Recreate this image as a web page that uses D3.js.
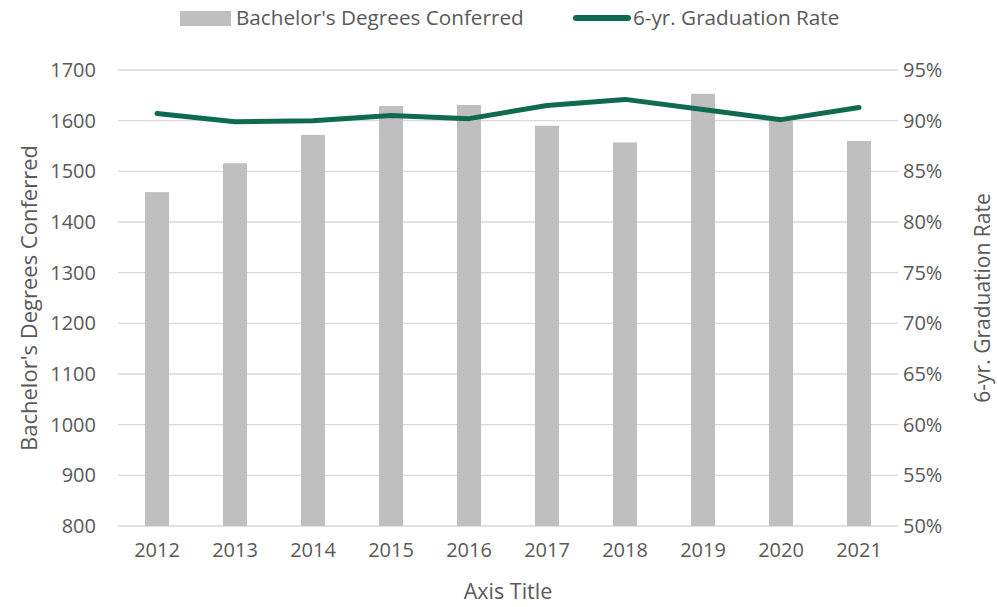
<!DOCTYPE html>
<html>
<head>
<meta charset="utf-8">
<script src="https://cdn.jsdelivr.net/npm/d3@7"></script>
<style>
  body { margin: 0; background: #fff; }
  text { font-family: "Open Sans", sans-serif; fill: #595959; }
</style>
</head>
<body>
<div id="chart"></div>
<script>
// Datos
const years = ["2012", "2013", "2014", "2015", "2016", "2017", "2018", "2019", "2020", "2021"];
const degrees = [1459, 1516, 1572, 1629, 1631, 1590, 1557, 1653, 1600, 1560];
const gradRate = [0.907, 0.899, 0.900, 0.905, 0.902, 0.915, 0.921, 0.911, 0.901, 0.913];
const leftTicks = [800, 900, 1000, 1100, 1200, 1300, 1400, 1500, 1600, 1700];
const rightTicks = [0.50, 0.55, 0.60, 0.65, 0.70, 0.75, 0.80, 0.85, 0.90, 0.95];

const WIDTH = 998, HEIGHT = 607;
const margin = { top: 70, right: 100, bottom: 81, left: 118 };
const width = WIDTH - margin.left - margin.right;
const height = HEIGHT - margin.top - margin.bottom;

const svg = d3.select("#chart").append("svg")
  .attr("width", WIDTH)
  .attr("height", HEIGHT);

const g = svg.append("g").attr("transform", `translate(${margin.left},${margin.top})`);

// Escalas
const x = d3.scaleBand().domain(years).range([0, width]);
const yL = d3.scaleLinear().domain([800, 1700]).range([height, 0]);
const yR = d3.scaleLinear().domain([0.5, 0.95]).range([height, 0]);

// Líneas de grilla
g.selectAll(".grid")
  .data(leftTicks)
  .enter().append("line")
  .attr("x1", 0).attr("x2", width)
  .attr("y1", d => yL(d)).attr("y2", d => yL(d))
  .attr("stroke", "#d9d9d9")
  .attr("stroke-width", 1.3);

// Barras
const barW = 24;
g.selectAll(".bar")
  .data(years)
  .enter().append("rect")
  .attr("x", (d) => x(d) + x.bandwidth() / 2 - barW / 2)
  .attr("y", (d, i) => yL(degrees[i]))
  .attr("width", barW)
  .attr("height", (d, i) => height - yL(degrees[i]))
  .attr("fill", "#bfbfbf");

// Línea de tasa de graduación
const line = d3.line()
  .x((d, i) => x(years[i]) + x.bandwidth() / 2)
  .y(d => yR(d));

g.append("path")
  .datum(gradRate)
  .attr("d", line)
  .attr("fill", "none")
  .attr("stroke", "#0e6b4f")
  .attr("stroke-width", 5)
  .attr("stroke-linecap", "round")
  .attr("stroke-linejoin", "round");

// Ejes
const axisL = g.append("g")
  .call(d3.axisLeft(yL).tickValues(leftTicks).tickFormat(d3.format("d")).tickSize(0).tickPadding(22));
const axisR = g.append("g")
  .attr("transform", `translate(${width},0)`)
  .call(d3.axisRight(yR).tickValues(rightTicks).tickFormat(d3.format(".0%")).tickSize(0).tickPadding(5));
const axisB = g.append("g")
  .attr("transform", `translate(0,${height})`)
  .call(d3.axisBottom(x).tickSize(0).tickPadding(17));

[axisL, axisR, axisB].forEach(a => {
  a.select(".domain").remove();
  a.selectAll("text").style("font-size", "20px").attr("fill", "#595959")
    .style("font-family", "'Open Sans', sans-serif");
});

// Títulos de ejes
svg.append("text")
  .attr("transform", `translate(29,${margin.top + height / 2}) rotate(-90)`)
  .attr("text-anchor", "middle")
  .attr("dy", "0.35em")
  .style("font-size", "22px")
  .text("Bachelor's Degrees Conferred");

svg.append("text")
  .attr("transform", `translate(983,${margin.top + height / 2}) rotate(-90)`)
  .attr("text-anchor", "middle")
  .attr("dy", "0.35em")
  .style("font-size", "21px")
  .text("6-yr. Graduation Rate");

svg.append("text")
  .attr("x", margin.left + width / 2)
  .attr("y", 591)
  .attr("text-anchor", "middle")
  .attr("dy", "0.35em")
  .style("font-size", "21.5px")
  .text("Axis Title");

// Leyenda
const legend = svg.append("g");
legend.append("rect")
  .attr("x", 180).attr("y", 11)
  .attr("width", 51).attr("height", 15)
  .attr("fill", "#bfbfbf");
legend.append("text")
  .attr("x", 236).attr("y", 18)
  .attr("dy", "0.35em")
  .style("font-size", "20.7px")
  .text("Bachelor's Degrees Conferred");
legend.append("line")
  .attr("x1", 576).attr("x2", 628)
  .attr("y1", 18).attr("y2", 18)
  .attr("stroke", "#0e6b4f")
  .attr("stroke-width", 6)
  .attr("stroke-linecap", "round");
legend.append("text")
  .attr("x", 633).attr("y", 18)
  .attr("dy", "0.35em")
  .style("font-size", "20.7px")
  .text("6-yr. Graduation Rate");
</script>
</body>
</html>
